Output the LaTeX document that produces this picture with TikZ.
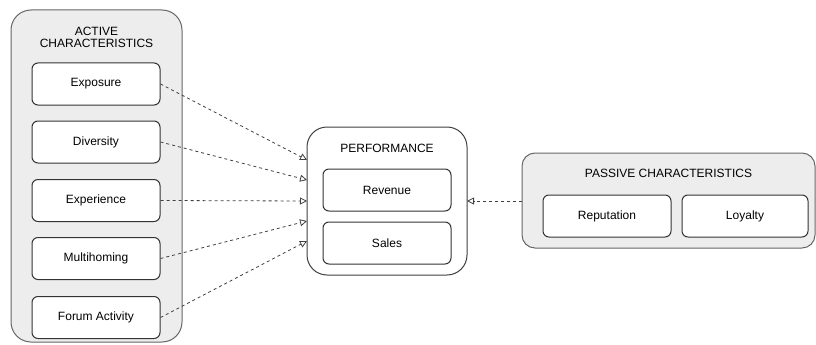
\documentclass[tikz,border=0pt]{standalone}
\usepackage{fontspec}
\setmainfont{Liberation Sans}
\usetikzlibrary{arrows.meta}
\begin{document}
\begin{tikzpicture}[x=1pt,y=-1pt,
  group/.style={draw=black!60, fill=black!7, line width=1pt, rounded corners=#1},
  group/.default=20pt,
  item/.style={draw=black!80, fill=white, line width=1pt, rounded corners=6pt,
    minimum width=128pt, minimum height=42pt, inner sep=0pt, font=\fontsize{12}{14}\selectfont},
  title/.style={align=center, font=\fontsize{12}{14}\selectfont, inner sep=0pt},
  link/.style={draw=black!75, line width=0.8pt, dash pattern=on 3pt off 3pt,
    -{Triangle[open, length=7pt, width=7pt]}}
]
\useasboundingbox (0,0) rectangle (816,345);

% containers
\path[group] (11,10) rectangle (182,342);
\path[group, fill=white, draw=black!75] (307,127) rectangle (467,275);
\path[group=13pt] (522,153) rectangle (815,248);
\coordinate (perfW) at (307,201);
\coordinate (perfE) at (467,201);
\coordinate (passW) at (522,201);

% titles
\node[title] at (96.5,37) {ACTIVE\\[-2pt]CHARACTERISTICS};
\node[title] at (387,148) {PERFORMANCE};
\node[title] at (668.5,173) {PASSIVE CHARACTERISTICS};

% active characteristics
\node[item] (exp)   at (96,84)  {Exposure};
\node[item] (div)   at (96,142) {Diversity};
\node[item] (xpr)   at (96,200.5) {Experience};
\node[item] (multi) at (96,258.5) {Multihoming};
\node[item] (forum) at (96,317.5) {Forum Activity};

% performance measures
\node[item] (rev)   at (387,190) {Revenue};
\node[item] (sales) at (387,243) {Sales};

% passive characteristics
\node[item] (rep) at (607,216) {Reputation};
\node[item, minimum width=126pt] (loy) at (745,216) {Loyalty};

% influences (yshift is measured upwards on the page)
\draw[link] (exp.east)   -- ([yshift=41pt]perfW);
\draw[link] (div.east)   -- ([yshift=21pt]perfW);
\draw[link] (xpr.east)   -- (perfW);
\draw[link] (multi.east) -- ([yshift=-20pt]perfW);
\draw[link] (forum.east) -- ([yshift=-40pt]perfW);
\draw[link] (passW) -- (perfE);
\end{tikzpicture}
\end{document}
